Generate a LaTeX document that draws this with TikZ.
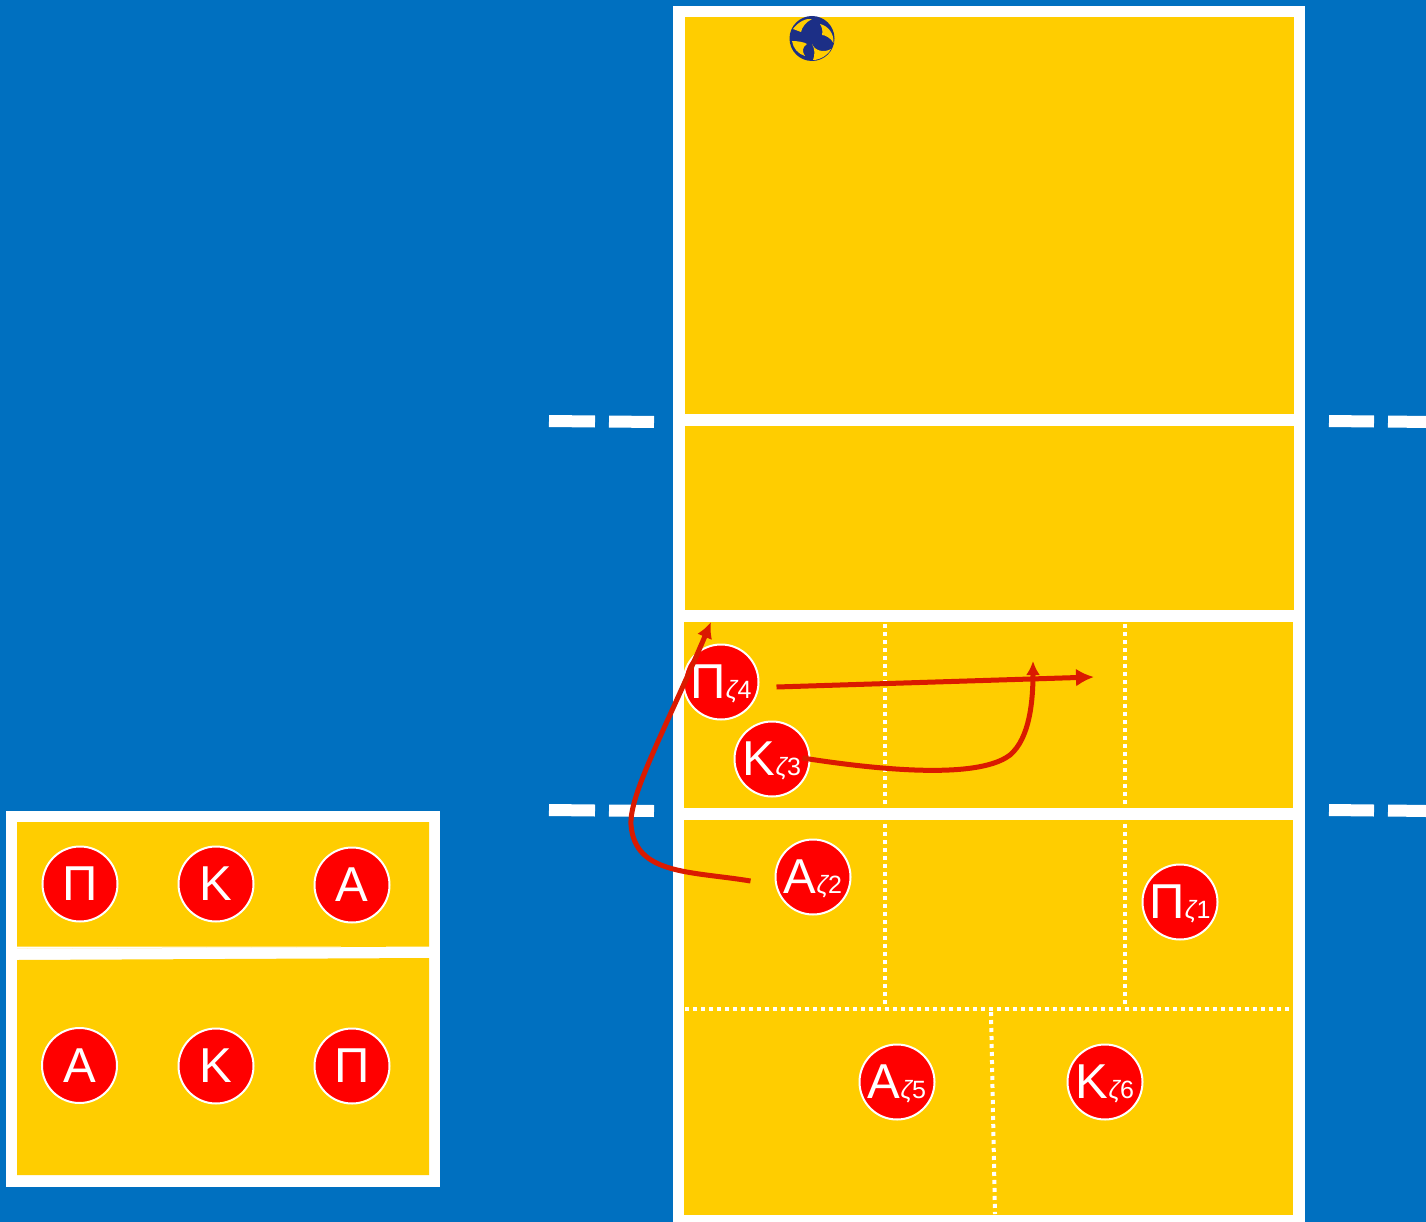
\documentclass[tikz,border=0pt]{standalone}
\usepackage{fontspec}
\setmainfont{Liberation Sans}
\usepackage{xcolor}
\usepackage{tikz}
\usetikzlibrary{arrows.meta,positioning,calc}
\definecolor{courtblue}{HTML}{0070C0}
\definecolor{courtyellow}{HTML}{FFCD00}
\definecolor{movered}{HTML}{DA1A00}
\definecolor{ballnavy}{HTML}{1C2F86}
\newcommand{\posname}[2]{{\fontsize{49}{49}\selectfont #1}{\fontsize{25}{25}\selectfont\smash{\itshape ζ}#2}}
\tikzset{
  player/.style={circle,draw=white,line width=2pt,fill=red,text=white,minimum size=75pt,inner sep=0pt,font=\fontsize{49}{49}\selectfont},
  zoneline/.style={white,line width=4pt,dash pattern=on 4pt off 4pt},
  linemark/.style={white,line width=12pt},
  moveline/.style={movered,line width=5pt},
  swoosh/.style={fill=courtyellow}
}
\begin{document}
\begin{tikzpicture}[x=1pt,y=-1pt,>=Latex]
\fill[courtblue] (0,0) rectangle (1426,1222);
\useasboundingbox (0,0) rectangle (1426,1222);

\fill[white] (6,811) rectangle (440,1187);
\fill[courtyellow] (17,822) rectangle (429,946.5) -- (17,948.8) -- cycle;
\fill[courtyellow] (17,960) -- (429,958) -- (429,1175) -- (17,1175) -- cycle;

\fill[white] (673,6) rectangle (1305,1222);
\fill[courtyellow] (685,17) rectangle (1294,414);
\fill[courtyellow] (685,426) rectangle (1294,610);
\fill[courtyellow] (684,622) rectangle (1293,808);
\fill[courtyellow] (684,820) rectangle (1293,1215);

\coordinate (netleftA) at (549,421);
\coordinate (netleftB) at (595,421.5);
\coordinate (netleftC) at (609,421.5);
\coordinate (netleftD) at (654,422);
\coordinate (netrightA) at (1329,421);
\coordinate (netrightB) at (1374,421.5);
\coordinate (netrightC) at (1388,421.5);
\coordinate (netrightD) at (1426,422);
\coordinate (attleftA) at (549,810);
\coordinate (attleftB) at (595,810.5);
\coordinate (attleftC) at (609,810.5);
\coordinate (attleftD) at (654,811);
\coordinate (attrightA) at (1329,810);
\coordinate (attrightB) at (1374,810.5);
\coordinate (attrightC) at (1388,810.5);
\coordinate (attrightD) at (1426,811);
\draw[linemark] (netleftA)--(netleftB) (netleftC)--(netleftD);
\draw[linemark] (netrightA)--(netrightB) (netrightC)--(netrightD);
\draw[linemark] (attleftA)--(attleftB) (attleftC)--(attleftD);
\draw[linemark] (attrightA)--(attrightB) (attrightC)--(attrightD);

\draw[zoneline] (885,624)--(885,1008);
\draw[zoneline] (1125,624)--(1125,1008);
\draw[zoneline] (685,1009)--(1306,1009);
\draw[zoneline] (991,1012)--(995,1214);

\node[player] (backp) at (80,884) {Π};
\node[player] (backk) at (216,884) {Κ};
\node[player] (backa) at (352,885) {Α};
\node[player] (fronta) at (79.5,1065.5) {Α};
\node[player] (frontk) at (216,1066) {Κ};
\node[player] (frontp) at (352,1066) {Π};

\node[player] (pz4) at (721,682) {\posname{Π}{4}};
\node[player] (kz3) at (772,759) {\posname{Κ}{3}};
\node[player] (az2) at (813,877) {\posname{Α}{2}};
\node[player] (pz1) at (1180,902) {\posname{Π}{1}};
\node[player] (az5) at (897,1082) {\posname{Α}{5}};
\node[player] (kz6) at (1105,1082) {\posname{Κ}{6}};

\coordinate (passend) at (1094,677);
\coordinate (runend) at (1033,661);
\coordinate (hitend) at (711,622);
\draw[moveline,-{Latex[length=18pt,width=18pt]}] ([xshift=17pt,yshift=-5pt]pz4.east)--(passend);
\draw[moveline,-{Latex[length=14pt,width=14pt]}] ([xshift=-8pt,yshift=1pt]kz3.east) .. controls (860,767) and (975,782) .. (1010,755) .. controls (1030,738) and (1033,700) .. (runend);
\draw[moveline,-{Latex[length=16pt,width=16pt]}] ([xshift=-24pt,yshift=-4pt]az2.west) .. controls (690,871) and (635,875) .. (631,825) .. controls (629,795) and (665,730) .. (hitend);

\node[circle,fill=ballnavy,minimum size=45pt,inner sep=0pt] (ball) at (812,38.5) {};
\fill[swoosh] (793,29) .. controls (798,22) and (806,18) .. (812,19) .. controls (806,22) and (802,27) .. (801,32) -- cycle;
\fill[swoosh] (820,24) .. controls (828,26) and (834,33) .. (833.5,43) .. controls (831,38) and (825,35) .. (822,35) .. controls (823,31) and (822,27) .. (820,24) -- cycle;
\fill[swoosh] (792,41) .. controls (797,41) and (804,42) .. (807,44) .. controls (802,47) and (802,52) .. (805,56) .. controls (798,54) and (793,48) .. (792,41) -- cycle;
\fill[swoosh] (812,44) .. controls (815,51) and (824,53) .. (831,49) .. controls (828,55) and (820,60) .. (813,60) .. controls (815,55) and (815,49) .. (812,44) -- cycle;
\end{tikzpicture}
\end{document}
